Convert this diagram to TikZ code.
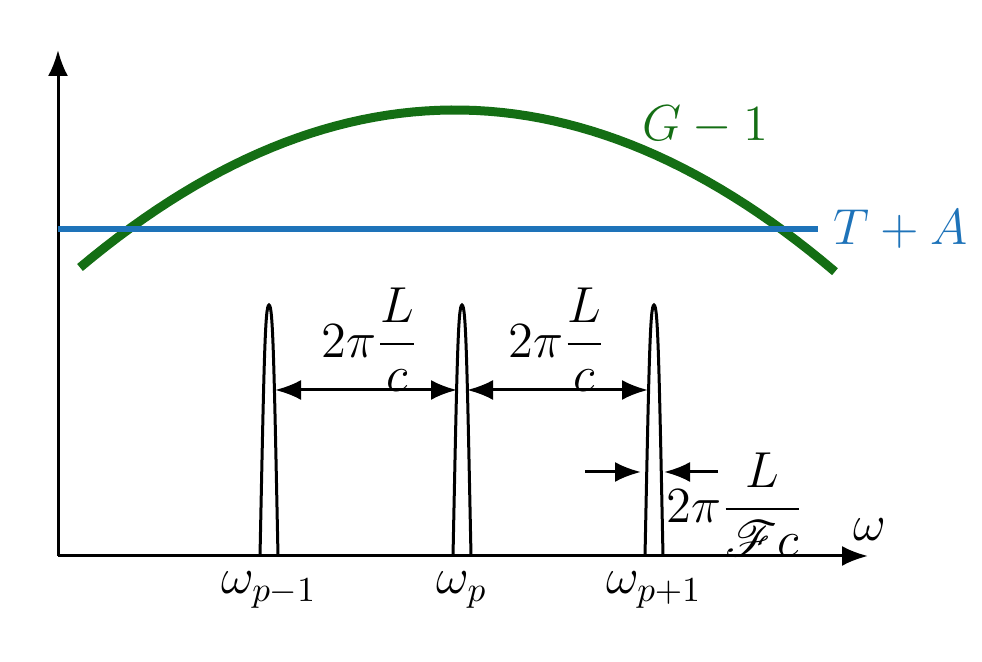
\documentclass[tikz,border=0pt]{standalone}
\usepackage{amsmath}
\usepackage{amssymb}
\usepackage{mathrsfs}
\usetikzlibrary{arrows.meta}
\definecolor{gaingreen}{RGB}{20,110,20}
\definecolor{lossblue}{RGB}{30,115,185}
\begin{document}
\begin{tikzpicture}[line width=0.3mm,>={Latex[length=2.6mm,width=2mm]},
  lbl/.style={font=\Large}]
\useasboundingbox (0,0) rectangle (9.82,6.62);
\coordinate (O) at (0.58,1.06);
\coordinate (Y) at (0.58,6.12);
\coordinate (X) at (8.68,1.06);
\draw[->] (O) -- (Y);
\draw[->] (O) -- (X);
\node[lbl] (w) at (8.70,1.32) {$\omega$};

% gain and loss
\draw[gaingreen,line width=0.9mm] plot[domain=0.80:8.35,samples=60] (\x,{5.52-0.112*(\x-4.55)^2});
\node[lbl,text=gaingreen] (G) at (7.05,5.37) {$G-1$};
\coordinate (Bl) at (0.58,4.33);
\coordinate (Br) at (8.18,4.33);
\draw[lossblue,line width=0.6mm] (Bl) -- (Br);
\node[lbl,text=lossblue,anchor=west] (TA) at (8.20,4.33) {$T+A$};

% modes
\foreach \m/\xx/\lab in {a/2.69/{\omega_{p-1}}, b/4.62/{\omega_p}, c/6.54/{\omega_{p+1}}}{
  \draw (\xx-0.09,1.06) .. controls (\xx-0.05,3.0) and (\xx-0.04,3.57) .. (\xx,3.57)
        .. controls (\xx+0.04,3.57) and (\xx+0.05,3.0) .. (\xx+0.09,1.06);
  \node[lbl] (\m) at (\xx,0.72) {$\lab$};
}

% spacings
\coordinate (s1) at (2.75,2.72);
\coordinate (s2) at (4.57,2.72);
\coordinate (s3) at (4.67,2.72);
\coordinate (s4) at (6.48,2.72);
\draw[<->] (s1) -- (s2);
\draw[<->] (s3) -- (s4);
\node[lbl] (d1) at (3.70,3.22) {$2\pi\dfrac{L}{c}$};
\node[lbl] (d2) at (5.57,3.22) {$2\pi\dfrac{L}{c}$};

% linewidth
\coordinate (l1) at (5.85,1.90);
\coordinate (l2) at (6.41,1.90);
\coordinate (r1) at (7.18,1.90);
\coordinate (r2) at (6.64,1.90);
\draw[->] (l1) -- (l2);
\draw[->] (r1) -- (r2);
\node[lbl] (d3) at (7.35,1.57) {$2\pi\dfrac{L}{\mathscr{F}c}$};
\end{tikzpicture}
\end{document}
